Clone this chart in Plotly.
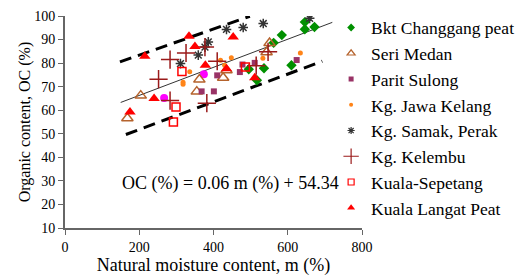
import plotly.graph_objects as go

# ---- data ----
bkt_x = [562, 584, 646, 672, 646, 495, 536, 610, 517]
bkt_y = [88.6, 91.9, 94.4, 95.3, 97.4, 77.4, 77.8, 79.1, 72.7]

seri_x = [168, 204, 355, 362, 426, 435, 543, 551]
seri_y = [56.6, 66.2, 67.9, 73.0, 73.8, 77.0, 84.6, 88.5]

parit_x = [368, 401, 410, 471, 478, 511, 624]
parit_y = [68.0, 68.0, 74.8, 76.2, 79.4, 80.1, 81.3]

jawa_x = [336, 318, 318, 419, 448, 430, 533, 634]
jawa_y = [76.3, 71.9, 71.0, 81.2, 82.3, 79.1, 82.1, 84.3]

samak_x = [311, 359, 386, 377, 435, 480, 534, 659]
samak_y = [79.8, 83.4, 89.0, 86.8, 94.3, 95.1, 96.8, 99.0]

kelembu_x = [252, 283, 326, 283, 382, 377, 410, 515, 547]
kelembu_y = [73.2, 81.5, 84.3, 64.1, 63.0, 86.8, 80.8, 78.9, 84.8]

sepetang_x = [315, 299, 292, 486]
sepetang_y = [76.4, 61.4, 55.0, 78.4]

langat_x = [175, 215, 240, 334, 350, 378, 453, 511, 435]
langat_y = [59.2, 82.9, 65.0, 91.4, 87.1, 79.1, 91.1, 73.8, 77.6]

extra_x = [267, 374]
extra_y = [65.2, 75.3]

fit_x = [150, 720]
fit_y = [63.3, 97.3]
upper_x = [148, 498]
upper_y = [80.5, 99.9]
lower_x = [164, 693]
lower_y = [49.7, 80.8]

x_ticks = [0, 200, 400, 600, 800]
y_ticks = [10, 20, 30, 40, 50, 60, 70, 80, 90, 100]

equation = "OC (%) = 0.06 m (%) + 54.34"
x_title = "Natural moisture content, m (%)"
y_title = "Organic content, OC (%)"

SERIF = "Liberation Serif"

fig = go.Figure()

# lines
fig.add_trace(go.Scatter(x=fit_x, y=fit_y, mode="lines",
                         line=dict(color="#333333", width=1), showlegend=False, hoverinfo="skip"))
fig.add_trace(go.Scatter(x=upper_x, y=upper_y, mode="lines",
                         line=dict(color="black", width=3, dash="12px,7px"), showlegend=False, hoverinfo="skip"))
fig.add_trace(go.Scatter(x=lower_x, y=lower_y, mode="lines",
                         line=dict(color="black", width=3, dash="12px,7px"), showlegend=False, hoverinfo="skip"))

# (name, x, y, symbol, plot size, legend size, color, line width)
series = [
    ("Bkt Changgang peat", bkt_x, bkt_y, "diamond", 8, 6, "#009000", 0),
    ("Seri Medan", seri_x, seri_y, "triangle-up-open", 10, 7, "#b5632d", 1.5),
    ("Parit Sulong", parit_x, parit_y, "square", 6, 5, "#993366", 0),
    ("Kg. Jawa Kelang", jawa_x, jawa_y, "circle", 5, 4, "#ff8418", 0),
    ("Kg. Samak, Perak", samak_x, samak_y, "asterisk-open", 8, 6, "#333333", 1.5),
    ("Kg. Kelembu", kelembu_x, kelembu_y, "cross-thin-open", 13, 11, "#9a1a1a", 1.5),
    ("Kuala-Sepetang", sepetang_x, sepetang_y, "square-open", 8, 6, "#ff0000", 1.5),
    ("Kuala Langat Peat", langat_x, langat_y, "triangle-up", 10, 7, "#ff0000", 0),
]

# magenta points not in legend
fig.add_trace(go.Scatter(x=extra_x, y=extra_y, mode="markers",
                         marker=dict(symbol="circle", size=8, color="#ff00ff"), showlegend=False))

for name, xs, ys, sym, sz, lsz, col, lw in series:
    mk = dict(symbol=sym, size=sz, color=col)
    if lw:
        mk["line"] = dict(width=lw, color=col)
    fig.add_trace(go.Scatter(x=xs, y=ys, mode="markers", name=name, marker=mk, showlegend=False))

for name, xs, ys, sym, sz, lsz, col, lw in series:
    mk = dict(symbol=sym, size=lsz, color=col)
    if lw:
        mk["line"] = dict(width=1.2, color=col)
    fig.add_trace(go.Scatter(x=[None], y=[None], mode="markers", name=name, marker=mk, showlegend=True))

fig.add_annotation(x=148, y=29, xref="x", yref="y", text=equation, showarrow=False,
                   xanchor="left", yanchor="middle", font=dict(family=SERIF, size=18, color="black"))

# page body has an 8px default margin: figure sized to fit the 524x276 window
fig.update_layout(
    width=516, height=268,
    margin=dict(l=57, r=162, t=8, b=48, autoexpand=False),
    paper_bgcolor="white", plot_bgcolor="white",
    font=dict(family=SERIF, size=14, color="black"),
    showlegend=True,
    legend=dict(x=0.896, y=1.03, xanchor="left", yanchor="top",
                font=dict(family=SERIF, size=17.5, color="black"),
                bgcolor="rgba(0,0,0,0)", tracegroupgap=0, maxheight=260),
    xaxis=dict(range=[0, 800], tickvals=x_ticks, showgrid=False, zeroline=False,
               showline=True, linecolor="#666666", linewidth=2, ticks="outside",
               ticklen=5, tickcolor="#666666", tickwidth=1, automargin=False,
               title=dict(text=x_title, font=dict(family=SERIF, size=18), standoff=6),
               tickfont=dict(family=SERIF, size=14)),
    yaxis=dict(range=[10, 100], tickvals=y_ticks, showgrid=False, zeroline=False,
               showline=True, linecolor="#666666", linewidth=2, ticks="outside",
               ticklen=5, tickcolor="#666666", tickwidth=1, automargin=False,
               title=dict(text=y_title, font=dict(family=SERIF, size=16), standoff=0),
               tickfont=dict(family=SERIF, size=14)),
)

fig.write_html("out.html")
